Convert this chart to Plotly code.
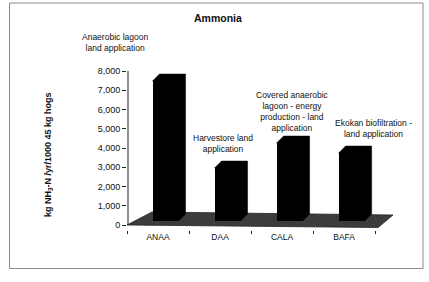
import plotly.graph_objects as go

# ---- data ----
categories = ["ANAA", "DAA", "CALA", "BAFA"]
values = [7270, 2750, 4050, 3530]
bar_notes = [
    "Anaerobic lagoon<br>land application",
    "Harvestore land<br>application",
    "Covered anaerobic<br>lagoon - energy<br>production - land<br>application",
    "Ekokan biofiltration -<br>land application",
]
y_ticks = [0, 1000, 2000, 3000, 4000, 5000, 6000, 7000, 8000]
title_text = "Ammonia"
y_title = "kg NH<sub>3</sub>-N /yr/1000 45 kg hogs"

# ---- layout geometry (pixels) ----
W, H = 429, 282
PL, PR, PT, PB = 127, 395, 71, 230
X0, X1 = -0.5, 3.82
Y0, Y1 = -260, 8000


def px2x(px):
    return X0 + (px - PL) / (PR - PL) * (X1 - X0)


def px2y(py):
    return Y0 + (PB - py) / (PB - PT) * (Y1 - Y0)


def ppx(px):
    return (px - PL) / (PR - PL)


def ppy(py):
    return (PB - py) / (PB - PT)


XU = (X1 - X0) / (PR - PL)      # x units per pixel
YU = (Y1 - Y0) / (PB - PT)      # y units per pixel
DX, DY = 7 * XU, 7 * YU         # bar depth
SX, SY = 7.5 * XU, 4 * YU       # bar position inside floor depth
BW = 26 * XU                    # front face width

FONT = "Liberation Sans, Arial, sans-serif"
INK = "#111111"

fig = go.Figure()

# front faces
xs = [i + SX for i in range(len(categories))]
fig.add_trace(go.Bar(
    x=xs, y=values, base=[SY] * len(values), width=BW,
    marker=dict(color="#000000", line=dict(width=0)),
    hoverinfo="skip", showlegend=False,
))

# top and side faces
px_, py_ = [], []
for xc, v in zip(xs, values):
    x0, x1 = xc - BW / 2, xc + BW / 2
    top = SY + v
    px_ += [x0, x0 + DX, x1 + DX, x1 + DX, x1, x1, x0, None]
    py_ += [top, top + DY, top + DY, SY + DY, SY, top, top, None]
fig.add_trace(go.Scatter(
    x=px_, y=py_, mode="lines", fill="toself", fillcolor="#000000",
    line=dict(color="#000000", width=0.5), hoverinfo="skip", showlegend=False,
))

shapes = []
# floor
fl = [(127, 225), (378, 227.5), (393, 215), (152, 212)]
path = "M " + " L ".join(f"{px2x(a)},{px2y(b)}" for a, b in fl) + " Z"
shapes.append(dict(type="path", path=path, xref="x", yref="y", layer="below",
                   fillcolor="#3c3c3c", line=dict(color="#222222", width=0.8)))
# value axis line
shapes.append(dict(type="line", xref="paper", yref="y", x0=ppx(128), x1=ppx(128),
                   y0=0, y1=8000, line=dict(color="#222222", width=1)))
# outer frame
shapes.append(dict(type="rect", xref="paper", yref="paper",
                   x0=ppx(9.5), x1=ppx(423), y0=ppy(268.5), y1=ppy(3),
                   line=dict(color="#8a8a8a", width=1)))

annotations = []
note_pos = [(115, 42.5), (223, 143.5), (292, 111.5), (373, 128.5)]
for txt, (ax, ay) in zip(bar_notes, note_pos):
    annotations.append(dict(x=ppx(ax), y=ppy(ay), xref="paper", yref="paper", text=txt,
                            xanchor="center", yanchor="middle",
                            showarrow=False, align="center",
                            font=dict(family=FONT, size=8.5, color=INK)))
annotations.append(dict(x=ppx(218), y=ppy(18), xref="paper", yref="paper",
                        xanchor="center", yanchor="middle",
                        text="<b>" + title_text + "</b>", showarrow=False,
                        font=dict(family=FONT, size=10.5, color=INK)))
annotations.append(dict(x=ppx(48), y=ppy(155), xref="paper", yref="paper",
                        xanchor="center", yanchor="middle",
                        text="<b>" + y_title + "</b>", showarrow=False, textangle=-90,
                        font=dict(family=FONT, size=9, color=INK)))

fig.update_layout(
    width=W, height=H,
    margin=dict(l=PL, r=W - PR, t=PT, b=H - PB, pad=0),
    paper_bgcolor="white", plot_bgcolor="rgba(0,0,0,0)",
    font=dict(family=FONT, size=9, color=INK),
    shapes=shapes, annotations=annotations,
    showlegend=False, bargap=0,
)
fig.update_xaxes(
    range=[X0, X1], tickvals=list(range(len(categories))), ticktext=categories,
    showgrid=False, zeroline=False, showline=False, ticks="",
    tickfont=dict(family=FONT, size=8.5, color=INK),
    minor=dict(ticks="outside", ticklen=3, tickcolor="#222222", tick0=0.5, dtick=1,
               showgrid=False),
)
fig.update_yaxes(
    range=[Y0, Y1], tickvals=y_ticks, tickformat=",d",
    showgrid=False, zeroline=False, showline=False,
    ticks="outside", ticklen=4, tickcolor="#222222",
    tickfont=dict(family=FONT, size=9, color=INK),
)

fig.write_html("out.html")
